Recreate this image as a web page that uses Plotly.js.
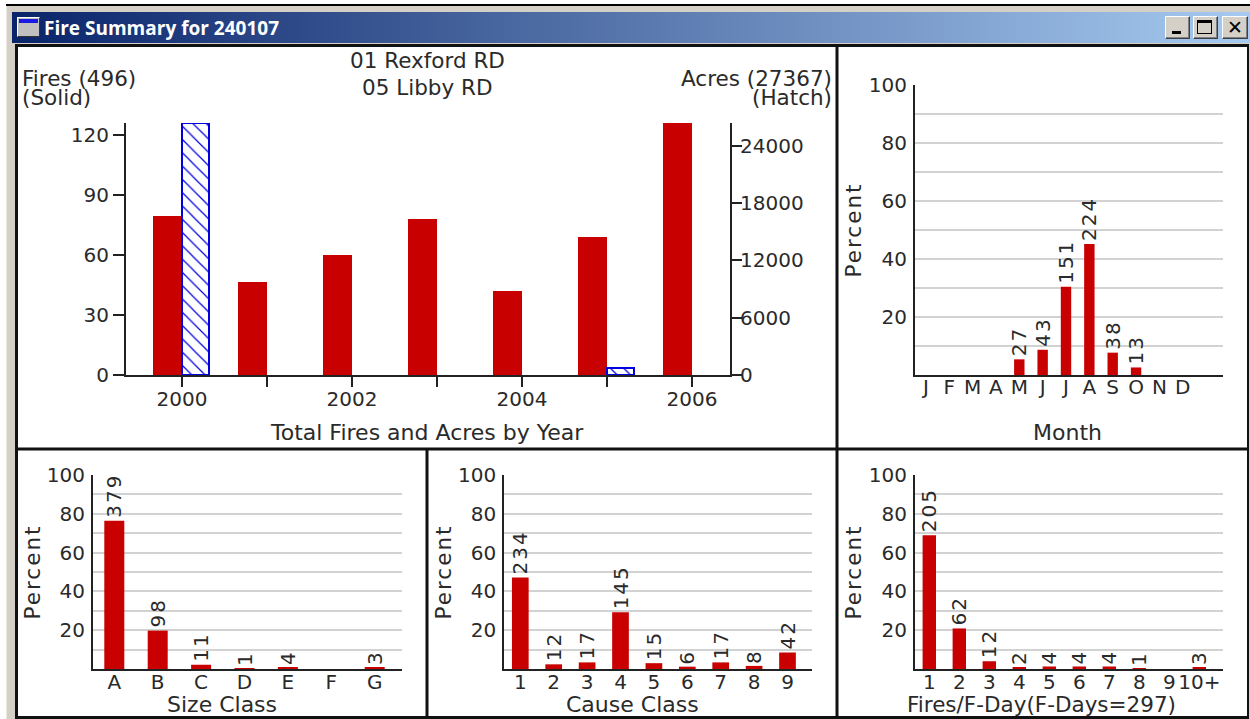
<!DOCTYPE html>
<html>
<head>
<meta charset="utf-8">
<title>Fire Summary for 240107</title>
<script src="https://cdn.plot.ly/plotly-3.0.1.min.js"></script>
<style>
html,body{margin:0;padding:0;background:#fff;overflow:hidden;width:1250px;height:719px}
.c{position:absolute;box-sizing:border-box}
#plot{position:absolute;left:0;top:0;width:1250px;height:719px}
.btn{background:#d4d0c8;border:1px solid;border-color:#fff #404040 #404040 #fff;top:16px;height:23px;box-shadow:inset -1px -1px 0 #808080}
.y3title,.y4title,.y5title,.y6title{letter-spacing:2px}
.bartext{letter-spacing:2px}
</style>
</head>
<body>
<div class="c" style="left:6px;top:4px;width:1244px;height:2px;background:#000"></div>
<div class="c" style="left:6px;top:6px;width:1244px;height:713px;background:#d4d0c8;border-left:1px solid #eeeae2"></div>
<div class="c" style="left:12px;top:12px;width:1238px;height:31px;background:linear-gradient(90deg,#0a246a,#a6caf0)"></div>
<div class="c" style="left:17px;top:17px;width:23px;height:20px;background:#c0c0c0;border:1px solid #fff;border-right-color:#333;border-bottom-color:#333"></div>
<div class="c" style="left:19px;top:19px;width:19px;height:4px;background:#1a1ae0"></div>
<div class="c btn" style="left:1165px;width:25px"></div>
<div class="c" style="left:1172px;top:31px;width:9px;height:3px;background:#000"></div>
<div class="c btn" style="left:1193px;width:25px"></div>
<div class="c" style="left:1197px;top:20px;width:15px;height:14px;border:1px solid #000;border-top-width:3px"></div>
<div class="c btn" style="left:1222px;width:26px"></div>
<div class="c" style="left:1222px;top:15px;width:26px;height:24px;text-align:center;font:bold 19px/24px 'DejaVu Sans',sans-serif;color:#000">✕</div>
<div class="c" style="left:15px;top:44px;width:1234px;height:675px;background:#fff;border:solid #111;border-width:3px 2px 3px 3px"></div>
<div id="plot"></div>
<script>
// ---------- data ----------
var years = [2000, 2001, 2002, 2003, 2004, 2005, 2006];
var yearTickText = ['2000', '', '2002', '', '2004', '', '2006'];
var yearFires = [79.5, 46.5, 60, 78, 42, 69, 126];
var yearAcres = [26400, null, null, null, null, 730, null];

var monthLabels = ['J', 'F', 'M', 'A', 'M', 'J', 'J', 'A', 'S', 'O', 'N', 'D'];
var monthPercent = [0, 0, 0, 0, 5.4, 8.7, 30.4, 45.2, 7.7, 2.6, 0, 0];
var monthCounts = ['', '', '', '', '27', '43', '151', '224', '38', '13', '', ''];

var sizeLabels = ['A', 'B', 'C', 'D', 'E', 'F', 'G'];
var sizePercent = [76.4, 19.8, 2.2, 0.2, 0.8, 0, 0.6];
var sizeCounts = ['379', '98', '11', '1', '4', '', '3'];

var causeLabels = ['1', '2', '3', '4', '5', '6', '7', '8', '9'];
var causePercent = [47.2, 2.4, 3.4, 29.2, 3.0, 1.2, 3.4, 1.6, 8.5];
var causeCounts = ['234', '12', '17', '145', '15', '6', '17', '8', '42'];

var dayLabels = ['1', '2', '3', '4', '5', '6', '7', '8', '9', '10+'];
var dayPercent = [69.0, 20.9, 4.0, 0.7, 1.3, 1.3, 1.3, 0.3, 0, 1.0];
var dayCounts = ['205', '62', '12', '2', '4', '4', '4', '1', '', '3'];

var percentTicks = [10, 20, 30, 40, 50, 60, 70, 80, 90, 100];
var percentTickText = ['', '20', '', '40', '', '60', '', '80', '', '100'];
var firesTicks = [0, 30, 60, 90, 120];
var acresTicks = [0, 6000, 12000, 18000, 24000];
var acresTickText = ['0', '6000', '12000', '18000', '24000'];

// ---------- styling ----------
var W = 1250, H = 719;
var FONT = 'DejaVu Sans, sans-serif';
var TXT = '#2a2a2a', RED = '#c80000', BLUE = '#0000e0', AX = '#222', GRID = '#d2d2d2', FS = 20, FT = 21.5;
function px(x) { return x / W; }
function py(y) { return 1 - y / H; }
function idx(a) { return a.map(function (_, i) { return i; }); }

var layout = {
  width: W, height: H,
  margin: {l: 0, r: 0, t: 0, b: 0},
  paper_bgcolor: 'rgba(0,0,0,0)',
  plot_bgcolor: 'rgba(0,0,0,0)',
  showlegend: false,
  barmode: 'overlay',
  font: {family: FONT, size: FS, color: TXT},
  title: {text: 'Fire Summary for 240107', x: px(44), xanchor: 'left', y: py(28), yanchor: 'middle',
          font: {family: 'Open Sans, sans-serif', size: 19, color: '#fff', weight: 700}},
  shapes: [
    {type: 'line', xref: 'paper', yref: 'paper', x0: px(17), x1: px(1248), y0: py(449), y1: py(449), line: {color: '#111', width: 3}},
    {type: 'line', xref: 'paper', yref: 'paper', x0: px(837), x1: px(837), y0: py(47), y1: py(717), line: {color: '#111', width: 3}},
    {type: 'line', xref: 'paper', yref: 'paper', x0: px(427), x1: px(427), y0: py(449), y1: py(717), line: {color: '#111', width: 3}}
  ],
  annotations: []
};
function note(text, x, y, anchor, size) {
  layout.annotations.push({text: text, xref: 'paper', yref: 'paper', x: px(x), y: py(y), xanchor: anchor, yanchor: 'middle',
    showarrow: false, font: {family: FONT, size: size || FT, color: TXT}, borderpad: 0});
}
note('01 Rexford RD', 427, 60, 'center');
note('05 Libby RD', 427, 87, 'center');
note('Fires (496)', 21, 79, 'left');
note('(Solid)', 21, 97, 'left');
note('Acres (27367)', 833, 79, 'right');
note('(Hatch)', 833, 97, 'right');
// x-axis titles sit centred in their panels, not on their axes
note('Total Fires and Acres by Year', 426.5, 432, 'center', 22);
note('Month', 1067, 432, 'center', 22);
note('Size Class', 221.5, 704, 'center', 22);
note('Cause Class', 632, 704, 'center', 22);
note('Fires/F-Day(F-Days=297)', 1041, 704, 'center', 21.5);

var traces = [];

// top-left: fires and acres by year
var ppy = 85; // pixels per year
layout.xaxis = {domain: [px(126), px(730)], range: [2000 - 56 / ppy, 2000 + 548 / ppy], anchor: 'y',
  tickmode: 'array', tickvals: years, ticktext: yearTickText, ticks: 'outside', ticklen: 10, tickwidth: 2, tickcolor: AX,
  ticklabelstandoff: -5,
  showline: true, linecolor: AX, linewidth: 2, showgrid: false, zeroline: false};
layout.yaxis = {domain: [py(375), py(123)], range: [0, 126], anchor: 'x',
  tickmode: 'array', tickvals: firesTicks, ticks: 'outside', ticklen: 11, tickwidth: 2, tickcolor: AX,
  showline: true, linecolor: AX, linewidth: 2, showgrid: false, zeroline: false};
layout.yaxis2 = {domain: [py(375), py(123)], range: [0, 26400], overlaying: 'y', side: 'right', anchor: 'x',
  tickmode: 'array', tickvals: acresTicks, ticktext: acresTickText, ticks: 'outside', ticklen: 10, tickwidth: 2, tickcolor: AX,
  ticklabelstandoff: -6,
  showline: true, linecolor: AX, linewidth: 2, showgrid: false, zeroline: false};
traces.push({type: 'bar', name: 'Fires', x: years, y: yearFires, xaxis: 'x', yaxis: 'y',
  width: 29 / ppy, offset: -29 / ppy, marker: {color: RED}, hoverinfo: 'x+y'});
traces.push({type: 'bar', name: 'Acres', x: years, y: yearAcres, xaxis: 'x', yaxis: 'y2',
  width: 27 / ppy, offset: 0,
  marker: {color: '#fff', line: {color: BLUE, width: 2},
    pattern: {shape: '\\', fgcolor: BLUE, bgcolor: '#fff', size: 9.4, solidity: 0.13}}, hoverinfo: 'x+y'});

// percent panels
function panel(n, labels, values, counts, box, first, step, barPx, ytitleStandoff, tickOff) {
  var xa = 'xaxis' + n, ya = 'yaxis' + n;
  layout[xa] = {domain: [px(box.l), px(box.r)], range: [-(first - box.l) / step, (box.r - first) / step], anchor: 'y' + n,
    tickmode: 'array', tickvals: idx(labels), ticktext: labels, ticks: '', ticklabelstandoff: tickOff,
    showline: true, linecolor: AX, linewidth: 2, showgrid: false, zeroline: false};
  layout[ya] = {domain: [py(box.b), py(box.t)], range: [0, 100], anchor: 'x' + n,
    tickmode: 'array', tickvals: percentTicks, ticktext: percentTickText, ticks: '', ticklabelstandoff: 2,
    showline: true, linecolor: AX, linewidth: 2, showgrid: true, gridcolor: GRID, gridwidth: 2, zeroline: false,
    title: {text: 'Percent', standoff: ytitleStandoff, font: {size: FT, color: TXT}}};
  traces.push({type: 'bar', x: idx(labels), y: values, text: counts, xaxis: 'x' + n, yaxis: 'y' + n,
    width: barPx / step, marker: {color: RED}, textposition: 'outside', textangle: -90, cliponaxis: false,
    constraintext: 'none', textfont: {family: FONT, size: FS, color: TXT}, hoverinfo: 'y'});
}
panel(3, monthLabels, monthPercent, monthCounts, {l: 915, r: 1223, t: 85, b: 375}, 925.9, 23.35, 10.4, 1, -7);
panel(4, sizeLabels, sizePercent, sizeCounts, {l: 93, r: 402, t: 475, b: 669}, 114.3, 43.4, 20, 0, -6);
panel(5, causeLabels, causePercent, causeCounts, {l: 504.3, r: 812.3, t: 475, b: 669}, 520.3, 33.4, 16.7, 1, -6);
panel(6, dayLabels, dayPercent, dayCounts, {l: 915, r: 1223, t: 475, b: 669}, 929.3, 30, 13.4, 1, -6);

Plotly.newPlot('plot', traces, layout, {displayModeBar: false, responsive: false});
</script>
</body>
</html>
